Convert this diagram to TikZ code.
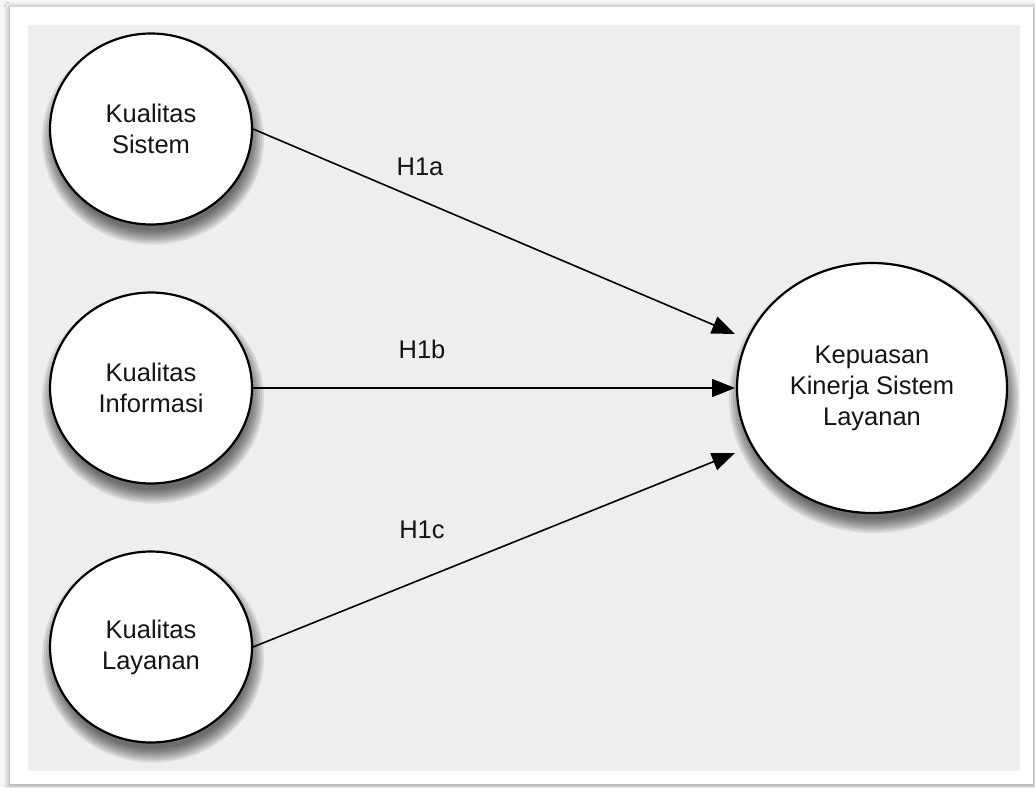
\documentclass[tikz,border=0pt]{standalone}
\usepackage{fontspec}
\setmainfont{Liberation Sans}
\usetikzlibrary{shapes.geometric,arrows.meta,shadows.blur}
\definecolor{panel}{HTML}{EEEEEE}
\definecolor{paper}{HTML}{F6F6F6}
\definecolor{ink}{HTML}{141414}
\tikzset{
  construct/.style={ellipse, draw=black, line width=2.2pt, fill=white,
    inner sep=0pt, minimum width=202pt, minimum height=191pt,
    align=center, text=ink, font=\fontsize{25.5}{31}\selectfont},
  outcome/.style={construct, minimum width=270pt, minimum height=250pt},
  path/.style={line width=1.6pt, draw=black,
    -{Triangle[length=23pt, width=18pt]}},
  hyp/.style={text=ink, font=\fontsize{25.5}{31}\selectfont, inner sep=0pt},
  shadelayer/.style={fill=black, fill opacity=0.09}
}
% soft drop shadow under an ellipse: centre x, centre y, x radius, y radius
\newcommand{\dropshade}[4]{%
  \foreach \k in {1,...,8}{%
    \fill[shadelayer] ({#1+2},{#2+10})
      ellipse [x radius={#3-6+2*\k}, y radius={#4-6+2*\k}];
  }%
}
\begin{document}
\begin{tikzpicture}[x=1pt, y=-1pt]
  \useasboundingbox (0,0) rectangle (1035,787);
  % page and framed panel
  \fill[paper] (0,0) rectangle (1035,787);
  \fill[white, blur shadow={shadow xshift=0pt, shadow yshift=-1pt,
      shadow blur radius=6pt, shadow opacity=45}]
    (10,7) rectangle (1033,784);
  \fill[panel] (28,25) rectangle (1020,771);

  % shadows under the constructs
  \dropshade{151}{129}{101}{95.5}
  \dropshade{151}{388}{101}{95.5}
  \dropshade{151}{647}{101}{95.5}
  \dropshade{872}{388}{135}{125}

  % constructs
  \node[construct] (ks) at (151,129) {Kualitas\\Sistem};
  \node[construct] (ki) at (151,388) {Kualitas\\Informasi};
  \node[construct] (kl) at (151,647) {Kualitas\\Layanan};
  \node[outcome] (kp) at (872,388) {Kepuasan\\Kinerja Sistem\\Layanan};

  % arrow tips, just short of the outcome ellipse
  \coordinate (ta) at (735,334);
  \coordinate (tb) at (735,388);
  \coordinate (tc) at (735,453);

  % hypothesised paths
  \draw[path] (ks.east) -- (ta);
  \draw[path] (ki.east) -- (tb);
  \draw[path] (kl.east) -- (tc);

  % hypothesis labels
  \node[hyp] (h1a) at (420,167) {H1a};
  \node[hyp] (h1b) at (422,349) {H1b};
  \node[hyp] (h1c) at (422,530) {H1c};
\end{tikzpicture}
\end{document}
